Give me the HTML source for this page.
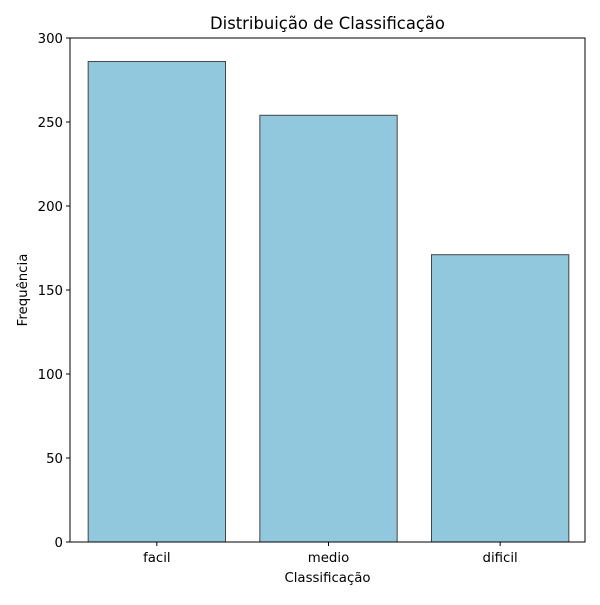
<!DOCTYPE html>
<html><head><meta charset="utf-8">
<style>
body{margin:0;background:#fff;font-family:"Liberation Sans","DejaVu Sans",sans-serif;}
svg text{font-family:"DejaVu Sans","Liberation Sans",sans-serif;}
</style></head>
<body>
<svg id="chart" width="600" height="600" xmlns="http://www.w3.org/2000/svg">
<rect width="600" height="600" fill="#fff"/>
<text x="327.5" y="29" font-size="16.4" text-anchor="middle">Distribuição de Classificação</text>
<text x="327.5" y="582" font-size="13.3" text-anchor="middle">Classificação</text>
<text transform="translate(27,290) rotate(-90)" font-size="13.3" text-anchor="middle">Frequência</text>
<g id="bars"></g>
<g id="axes"></g>
</svg>
<script>
const categories = ["facil", "medio", "dificil"];
const counts = [286, 254, 171];
const yTicks = [0, 50, 100, 150, 200, 250, 300];

const L = 70, R = 585, T = 38, B = 542, yMax = 300;
const band = (R - L) / categories.length;
const xPos = i => L + 1 + band * i + band * 0.1;
const barW = band * 0.8;
const yScale = v => B - (v / yMax) * (B - T);
const NS = "http://www.w3.org/2000/svg";
const mk = (tag, attrs) => { const e = document.createElementNS(NS, tag); for (const k in attrs) e.setAttribute(k, attrs[k]); return e; };
const bars = document.getElementById("bars");
const axes = document.getElementById("axes");

counts.forEach((v, i) => {
  const r = mk("rect", {x: xPos(i), y: yScale(v), width: barW, height: B - yScale(v), fill: "#92c8dd", stroke: "#444", "stroke-width": 1});
  
  
  bars.appendChild(r);
  const t = mk("line", {x1: xPos(i) + barW / 2, x2: xPos(i) + barW / 2, y1: B, y2: B + 4, stroke: "#000"});
  
  
  axes.appendChild(t);
  const lb = mk("text", {x: xPos(i) + barW / 2, y: B + 20, "font-size": 13.3, "text-anchor": "middle"});
  lb.textContent = categories[i];
  
  
  axes.appendChild(lb);
});

yTicks.forEach(v => {
  const t = mk("line", {x1: L - 4, x2: L, y1: yScale(v), y2: yScale(v), stroke: "#000"});
  
  
  axes.appendChild(t);
  const lb = mk("text", {x: L - 7, y: yScale(v) + 5, "font-size": 13.3, "text-anchor": "end"});
  lb.textContent = v;
  
  
  axes.appendChild(lb);
});

const frame = mk("rect", {x: L, y: T, width: R - L, height: B - T, fill: "none", stroke: "#000", "stroke-width": 1});


axes.appendChild(frame);
</script>
</body></html>
